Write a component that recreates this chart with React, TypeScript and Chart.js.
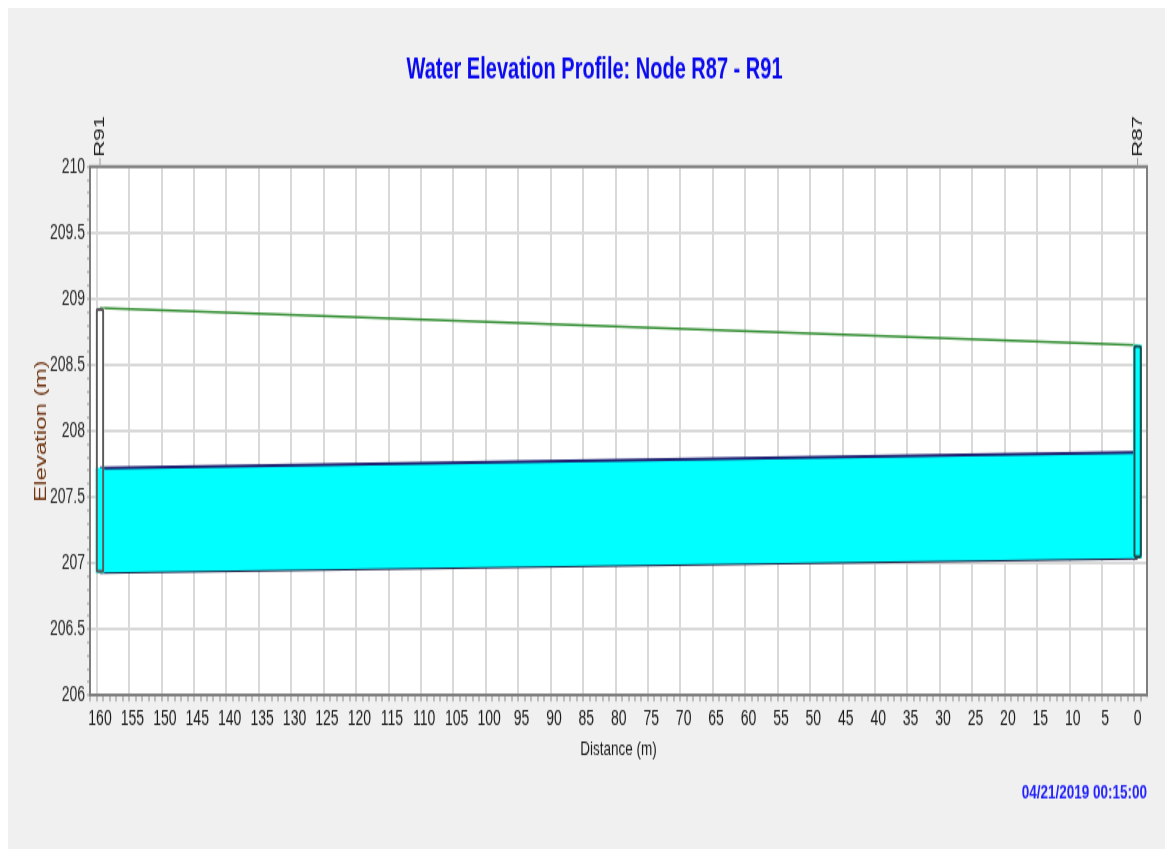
import React, { useEffect, useRef } from 'react';
import { Chart, registerables } from 'chart.js';

Chart.register(...registerables);

// ---- data ----
const nodeNames = ['R91', 'R87'];
const nodeDistance = [160, 0];
const nodeInvert = [206.93, 207.04];
const nodeRim = [208.93, 208.65];
const nodeWaterLevel = [207.72, 208.65];
const pipeCrown = [207.72, 207.84];
const pipeInvert = [206.93, 207.04];

const titleText = 'Water Elevation Profile: Node R87 - R91';
const xTitle = 'Distance (m)';
const yTitle = 'Elevation (m)';
const dateText = '04/21/2019 00:15:00';

const xMin = -1.45;
const xMax = 161.54;
const xMajorStep = 5;
const xMinorStep = 1;
const yMin = 206;
const yMax = 210;
const yMajorStep = 0.5;
const yMinorStep = 0.1;

const SANS = '"Liberation Sans", Arial, sans-serif';

const isMult = (v: number, step: number) => Math.abs(v / step - Math.round(v / step)) < 1e-6;

export default function App() {
  const ref = useRef<HTMLCanvasElement>(null);

  useEffect(() => {
    document.documentElement.style.overflow = 'hidden';
    const canvas = ref.current;
    if (!canvas) return;

    const pts = (ys: number[]) => nodeDistance.map((x, i) => ({ x, y: ys[i] }));
    const ranges = (lo: number[], hi: number[]) =>
      nodeDistance.map((x, i) => ({ x, y: [lo[i], hi[i]] }));

    const framePlugin = {
      id: 'frame',
      beforeDraw(chart: any) {
        const { ctx, chartArea: a, width, height } = chart;
        ctx.save();
        ctx.fillStyle = '#f0f0f0';
        ctx.fillRect(0, 0, width, height);
        ctx.fillStyle = '#ffffff';
        ctx.fillRect(a.left, a.top, a.right - a.left, a.bottom - a.top);
        ctx.restore();
      },
      afterDraw(chart: any) {
        const { ctx, chartArea: a, scales } = chart;
        ctx.save();
        ctx.strokeStyle = '#7f7f7f';
        ctx.lineWidth = 2;
        ctx.beginPath();
        ctx.moveTo(a.left - 1, a.top);
        ctx.lineTo(a.right, a.top);
        ctx.lineTo(a.right, a.bottom + 1);
        ctx.stroke();
        ctx.font = '15px ' + SANS;
        ctx.fillStyle = '#1a1a1a';
        ctx.textAlign = 'left';
        ctx.textBaseline = 'middle';
        nodeNames.forEach((name, i) => {
          const x = scales.x.getPixelForValue(nodeDistance[i]);
          ctx.strokeStyle = '#9a9a9a';
          ctx.lineWidth = 1;
          ctx.beginPath();
          ctx.moveTo(x, a.top);
          ctx.lineTo(x, a.top - 6);
          ctx.stroke();
          ctx.save();
          ctx.translate(x, a.top - 6.5);
          ctx.rotate(-Math.PI / 2);
          ctx.fillText(name, 0, 0);
          ctx.restore();
        });
        ctx.restore();
      },
    };

    const chart = new Chart(canvas, {
      type: 'line',
      data: {
        datasets: [
          {
            type: 'bar',
            label: 'Node outline',
            data: ranges(nodeInvert, nodeRim),
            backgroundColor: 'rgba(0,0,0,0)',
            borderColor: ['#5a5a5a', '#1d4d4d'],
            borderWidth: 1.5,
            borderSkipped: false,
            borderRadius: 2,
            barThickness: 8,
            grouped: false,
            order: 0,
          },
          {
            type: 'bar',
            label: 'Node water',
            data: ranges(nodeInvert, nodeWaterLevel),
            backgroundColor: '#00ffff',
            borderWidth: 0,
            barThickness: 8,
            grouped: false,
            order: 1,
          },
          {
            type: 'line',
            label: 'Pipe crown',
            data: pts(pipeCrown),
            borderColor: '#1f1f70',
            borderWidth: 2,
            backgroundColor: '#00ffff',
            fill: '+1',
            pointRadius: 0,
            order: 2,
          },
          {
            type: 'line',
            label: 'Pipe invert',
            data: pts(pipeInvert),
            borderColor: '#1a1a40',
            borderWidth: 2,
            fill: false,
            pointRadius: 0,
            order: 3,
          },
          {
            type: 'bar',
            label: 'Node body',
            data: ranges(nodeInvert, nodeRim),
            backgroundColor: '#ffffff',
            borderWidth: 0,
            barThickness: 8,
            grouped: false,
            order: 4,
          },
          {
            type: 'line',
            label: 'Ground',
            data: pts(nodeRim),
            borderColor: '#2e8b2e',
            borderWidth: 1.5,
            fill: false,
            pointRadius: 0,
            order: 5,
          },
        ],
      } as any,
      options: {
        animation: false,
        responsive: false,
        devicePixelRatio: 1,
        layout: { padding: { left: 34, right: 26, top: 0, bottom: 0 } },
        plugins: {
          legend: { display: false },
          tooltip: { enabled: false },
          title: {
            display: true,
            text: titleText,
            color: '#0a0af0',
            font: { family: SANS, size: 20, weight: 'bold' },
            padding: { top: 29.3, bottom: 52.5 },
          },
          subtitle: {
            display: true,
            position: 'bottom',
            align: 'end',
            text: dateText,
            color: '#2222ff',
            font: { family: SANS, size: 13.5, weight: 'bold' },
            padding: { top: 0, bottom: 29.5 },
          },
        },
        scales: {
          x: {
            type: 'linear',
            reverse: true,
            min: xMin,
            max: xMax,
            offset: false,
            afterFit: (s: any) => {
              s.height = 57;
            },
            grid: {
              color: (c: any) =>
                c.tick && isMult(c.tick.value, xMajorStep) ? '#d9d9d9' : 'rgba(0,0,0,0)',
              lineWidth: 2,
              tickColor: '#8a8a8a',
              tickWidth: 1,
              tickLength: 4,
            },
            border: { display: true, color: '#7f7f7f', width: 2 },
            ticks: {
              stepSize: xMinorStep,
              autoSkip: false,
              includeBounds: false,
              maxRotation: 0,
              minRotation: 0,
              padding: 3,
              color: '#1a1a1a',
              font: { family: SANS, size: 14 },
              callback: (v: any) => (isMult(Number(v), xMajorStep) ? String(v) : ''),
            },
            title: {
              display: true,
              text: xTitle,
              color: '#1a1a1a',
              font: { family: SANS, size: 13.5 },
              padding: { top: 0, bottom: 12.5 },
            },
          },
          y: {
            type: 'linear',
            min: yMin,
            max: yMax,
            afterFit: (s: any) => {
              s.width = 48;
            },
            grid: {
              color: (c: any) =>
                c.tick && isMult(c.tick.value, yMajorStep) ? '#d9d9d9' : 'rgba(0,0,0,0)',
              lineWidth: 2,
              tickColor: '#9a9a9a',
              tickWidth: 1,
              tickLength: 3,
            },
            border: { display: true, color: '#7f7f7f', width: 2 },
            ticks: {
              stepSize: yMinorStep,
              autoSkip: false,
              includeBounds: false,
              padding: 2,
              color: '#2a2a2a',
              font: { family: SANS, size: 14 },
              callback: (v: any) => (isMult(Number(v), yMajorStep) ? String(v) : ''),
            },
            title: {
              display: true,
              text: yTitle,
              color: '#6e3410',
              font: { family: SANS, size: 16 },
              padding: { top: -10.1, bottom: 0 },
            },
          },
        },
      } as any,
      plugins: [framePlugin],
    });

    return () => chart.destroy();
  }, []);

  return (
    <div style={{ width: 1165, height: 842, overflow: 'hidden' }}>
      <div
        style={{
          width: 1165,
          height: 561,
          transform: 'scaleY(1.5)',
          transformOrigin: '0 0',
        }}
      >
        <canvas ref={ref} width={1165} height={561} />
      </div>
    </div>
  );
}
